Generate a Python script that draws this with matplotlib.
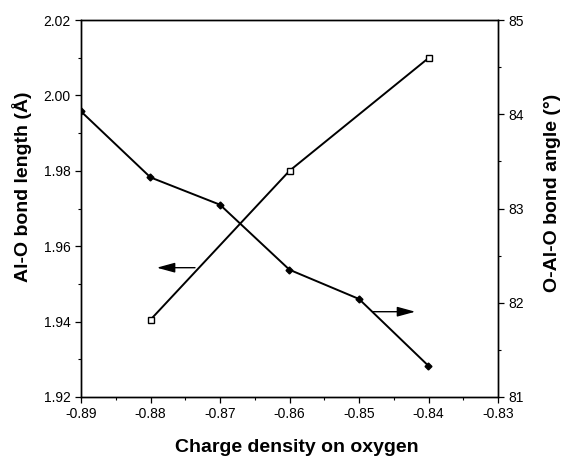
import matplotlib
matplotlib.use("Agg")
import matplotlib.pyplot as plt
from matplotlib.ticker import MultipleLocator

plt.rcParams['font.family'] = ['Liberation Sans', 'DejaVu Sans']

# bond length (left axis)
x_len = [-0.88, -0.86, -0.84]
bond_length = [1.9405, 1.98, 2.0099]

# bond angle (right axis)
x_ang = [-0.89, -0.88, -0.87, -0.86, -0.85, -0.84]
bond_angle = [84.03, 83.33, 83.04, 82.35, 82.04, 81.33]

xticks = [-0.89, -0.88, -0.87, -0.86, -0.85, -0.84, -0.83]
yticks_left = [1.92, 1.94, 1.96, 1.98, 2.00, 2.02]
yticks_right = [81, 82, 83, 84, 85]

fig = plt.figure(figsize=(5.63, 4.59), dpi=100)
ax = fig.add_axes([81 / 563, 1 - 397 / 459, (498 - 81) / 563, (397 - 20) / 459])
ax2 = ax.twinx()

ax.plot(x_len, bond_length, color="black", lw=1.4, marker="s", ms=5,
        mfc="white", mec="black", mew=1.0, zorder=3)
ax2.plot(x_ang, bond_angle, color="black", lw=1.4, marker="D", ms=3.5,
         mfc="black", mec="black", zorder=3)

ax.set_xlim(-0.89, -0.83)
ax.set_ylim(1.92, 2.02)
ax2.set_ylim(81, 85)

ax.set_xticks(xticks)
ax.set_xticklabels(["%.2f" % v for v in xticks])
ax.set_yticks(yticks_left)
ax.set_yticklabels(["%.2f" % v for v in yticks_left])
ax2.set_yticks(yticks_right)
ax.xaxis.set_minor_locator(MultipleLocator(0.005))
ax.yaxis.set_minor_locator(MultipleLocator(0.01))
ax2.yaxis.set_minor_locator(MultipleLocator(0.5))

for a in (ax, ax2):
    a.tick_params(which="major", length=4, width=0.9, labelsize=10, direction="out")
    a.tick_params(which="minor", length=2, width=0.8, direction="out")
    for s in a.spines.values():
        s.set_linewidth(1.0)

# arrows pointing to each axis
ax.annotate("", xy=(-0.8795, 1.9543), xytext=(-0.8732, 1.9543),
            arrowprops=dict(arrowstyle="-|>,head_length=1.1,head_width=0.3",
                            color="black", lw=1.0))
ax2.annotate("", xy=(-0.8415, 81.905), xytext=(-0.8484, 81.905),
             arrowprops=dict(arrowstyle="-|>,head_length=1.1,head_width=0.3",
                             color="black", lw=1.0))

# axis titles, placed where they sit in the original
lab = dict(fontsize=14, fontweight="bold", ha="center", va="center",
           transform=ax.transAxes)
ax.text(0.518, -0.135, "Charge density on oxygen", **lab)
ax.text(-0.1415, 0.557, "Al-O bond length (Å)", rotation=90, **lab)
ax.text(1.1295, 0.541, "O-Al-O bond angle (°)", rotation=90, **lab)

fig.savefig("out.png", dpi=100)
